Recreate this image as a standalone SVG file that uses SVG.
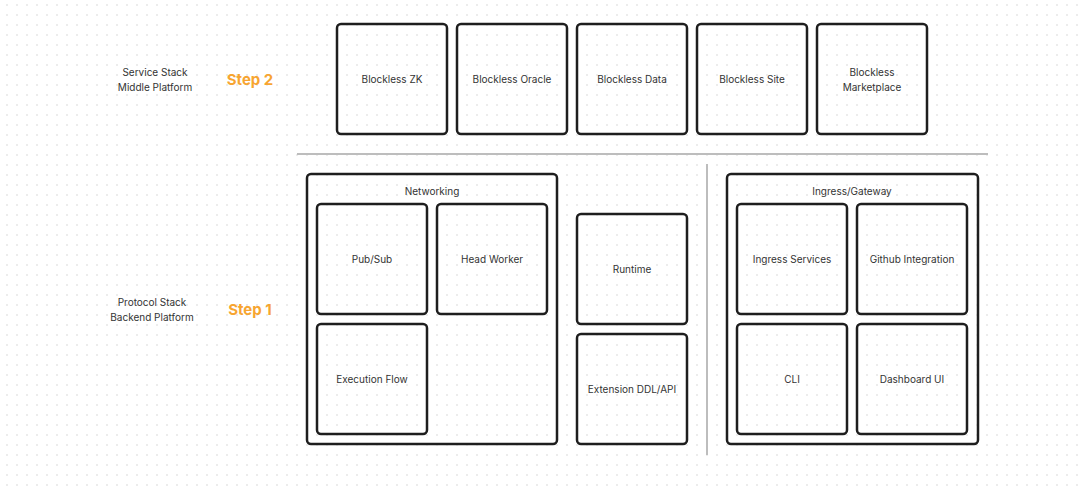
<svg xmlns="http://www.w3.org/2000/svg" width="1080" height="486" viewBox="0 0 1080 486">
<defs>
<pattern id="dots" x="6" y="4" width="10" height="10" patternUnits="userSpaceOnUse">
<rect x="0.3" y="0.3" width="1.4" height="1.4" fill="#d9d9d9"/>
</pattern>
<style>
.box{fill:none;stroke:#1e1e1e;stroke-width:2.5}
.t{font-family:Inter,"Liberation Sans",sans-serif;font-size:10px;fill:#333;text-anchor:middle;dominant-baseline:middle}
.step{font-family:Inter,"Liberation Sans",sans-serif;font-size:15px;font-weight:700;fill:#F7A531;text-anchor:middle;dominant-baseline:middle}
.sep{stroke:#bdbdbd;stroke-width:2;fill:none}
</style>
</defs>
<rect width="1080" height="486" fill="#fff"/>
<rect width="1080" height="486" fill="url(#dots)"/>

<g id="labels">
<text class="t" x="155" y="73">Service Stack</text>
<text class="t" x="155" y="88">Middle Platform</text>
<text class="step" x="250" y="81">Step 2</text>
<text class="t" x="152" y="303">Protocol Stack</text>
<text class="t" x="152" y="318">Backend Platform</text>
<text class="step" x="250" y="311">Step 1</text>
</g>

<g id="connectors">
<line class="sep" x1="297" y1="154" x2="988" y2="154"/>
<line class="sep" x1="707" y1="164" x2="707" y2="455"/>
</g>

<g id="blockless-zk"><rect class="box" x="337" y="24" width="110" height="110" rx="4"/><text class="t" x="392" y="80">Blockless ZK</text></g>
<g id="blockless-oracle"><rect class="box" x="457" y="24" width="110" height="110" rx="4"/><text class="t" x="512" y="80">Blockless Oracle</text></g>
<g id="blockless-data"><rect class="box" x="577" y="24" width="110" height="110" rx="4"/><text class="t" x="632" y="80">Blockless Data</text></g>
<g id="blockless-site"><rect class="box" x="697" y="24" width="110" height="110" rx="4"/><text class="t" x="752" y="80">Blockless Site</text></g>
<g id="blockless-marketplace"><rect class="box" x="817" y="24" width="110" height="110" rx="4"/><text class="t" x="872" y="73">Blockless</text><text class="t" x="872" y="88">Marketplace</text></g>

<g id="networking"><rect class="box" x="307" y="174" width="250" height="270" rx="4"/><text class="t" x="432" y="192">Networking</text></g>
<g id="pubsub"><rect class="box" x="317" y="204" width="110" height="110" rx="4"/><text class="t" x="372" y="260">Pub/Sub</text></g>
<g id="head-worker"><rect class="box" x="437" y="204" width="110" height="110" rx="4"/><text class="t" x="492" y="260">Head Worker</text></g>
<g id="execution-flow"><rect class="box" x="317" y="324" width="110" height="110" rx="4"/><text class="t" x="372" y="380">Execution Flow</text></g>

<g id="runtime"><rect class="box" x="577" y="214" width="110" height="110" rx="4"/><text class="t" x="632" y="270">Runtime</text></g>
<g id="extension"><rect class="box" x="577" y="334" width="110" height="110" rx="4"/><text class="t" x="632" y="390">Extension DDL/API</text></g>

<g id="ingress-gateway"><rect class="box" x="727" y="174" width="251" height="270" rx="4"/><text class="t" x="852" y="192">Ingress/Gateway</text></g>
<g id="ingress-services"><rect class="box" x="737" y="204" width="110" height="110" rx="4"/><text class="t" x="792" y="260">Ingress Services</text></g>
<g id="github-integration"><rect class="box" x="857" y="204" width="110" height="110" rx="4"/><text class="t" x="912" y="260">Github Integration</text></g>
<g id="cli"><rect class="box" x="737" y="324" width="110" height="110" rx="4"/><text class="t" x="792" y="380">CLI</text></g>
<g id="dashboard-ui"><rect class="box" x="857" y="324" width="110" height="110" rx="4"/><text class="t" x="912" y="380">Dashboard UI</text></g>
</svg>
